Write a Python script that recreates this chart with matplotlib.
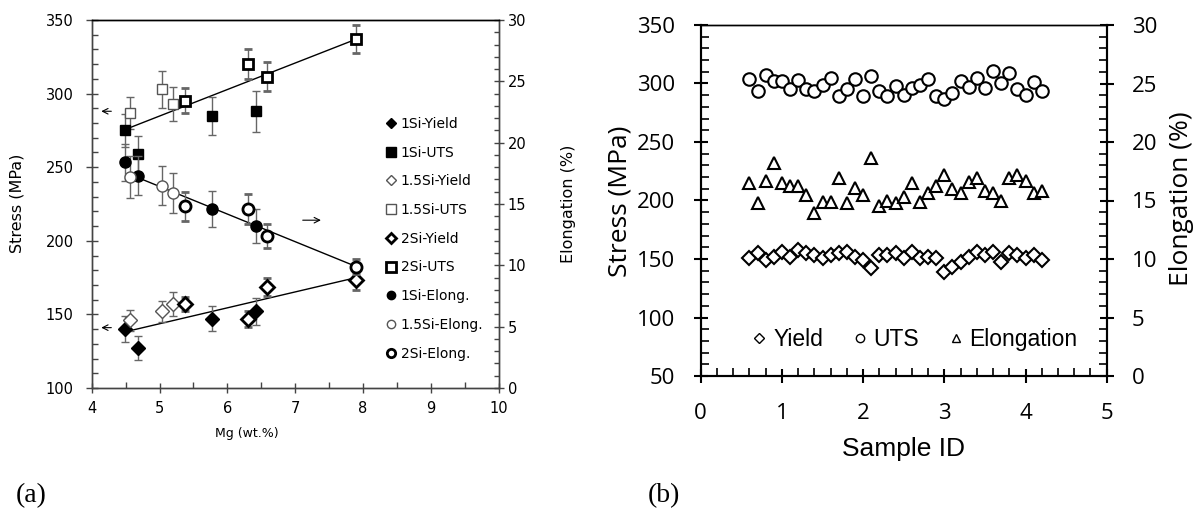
import numpy as np
import matplotlib
matplotlib.use('Agg')
from matplotlib import pyplot as plt
from matplotlib.lines import Line2D
from matplotlib.ticker import MultipleLocator

# ---- (a) tensile properties vs Mg content ----
mg_1si = [4.49, 4.68, 5.77, 6.42]
mg_15si = [4.57, 5.04, 5.20]
mg_2si = [5.37, 6.30, 6.58, 7.90]

yield_1si = [140, 127, 147, 152]
yield_1si_err = [9, 8, 8.5, 9]
yield_15si = [146, 152, 157]
yield_15si_err = [7, 7, 8]
yield_2si = [157, 147, 168.5, 173.5]
yield_2si_err = [5, 5.5, 6, 7]

uts_1si = [275, 259, 285, 288]
uts_1si_err = [11, 12, 13, 14]
uts_15si = [287, 303, 293]
uts_15si_err = [11, 12.5, 11.5]
uts_2si = [295, 320, 311.5, 337]
uts_2si_err = [8.5, 10, 10, 9.5]

el_1si = [18.4, 17.3, 14.6, 13.2]
el_1si_err = [1.5, 1.6, 1.5, 1.4]
el_15si = [17.2, 16.5, 15.9]
el_15si_err = [1.7, 1.6, 1.6]
el_2si = [14.8, 14.6, 12.4, 9.9]
el_2si_err = [1.15, 1.2, 1.0, 0.6]

trend_mg = [4.57, 7.90]
trend_uts = [277, 337]
trend_yield = [139, 175]
trend_el = [17.4, 9.9]

# ---- (b) scatter of repeated samples ----
sample_id = [0.6, 0.7, 0.8, 0.9, 1.0, 1.1, 1.2, 1.3, 1.4, 1.5,
             1.6, 1.7, 1.8, 1.9, 2.0, 2.1, 2.2, 2.3, 2.4, 2.5,
             2.6, 2.7, 2.8, 2.9, 3.0, 3.1, 3.2, 3.3, 3.4, 3.5,
             3.6, 3.7, 3.8, 3.9, 4.0, 4.1, 4.2]
yield_b = [150.6, 155, 149, 152, 156, 152, 157.7, 155, 153.4, 150.6,
           153.4, 155, 156.2, 152, 149, 142, 153.4, 153.4, 155, 150.6,
           156.2, 150.6, 152, 150.6, 139, 143.4, 147.7, 152, 156.2, 153.4,
           156.2, 147.7, 155, 153.4, 150.6, 153.4, 149]
uts_b = [304, 294, 307, 302, 302, 295, 303, 295, 294, 299,
         305, 289, 295, 304, 289, 306, 294, 289, 298, 290,
         296, 299, 304, 289, 287, 292, 302, 297, 305, 296,
         311, 300, 309, 295, 290, 301, 294]
elong_b = [16.5, 14.8, 16.7, 18.2, 16.5, 16.2, 16.2, 15.5, 13.9, 14.9,
           14.9, 16.9, 14.8, 16.1, 15.5, 18.6, 14.5, 15.0, 14.8, 15.3,
           16.5, 14.9, 15.6, 16.2, 17.2, 16.0, 15.6, 16.6, 16.9, 15.8,
           15.6, 15.0, 16.9, 17.2, 16.7, 15.6, 15.8]

W, H = 1197, 517
fig = plt.figure(figsize=(W / 100, H / 100), dpi=100)

def fx(px):
    return px / W

def fy(py):
    return 1 - py / H

gray = '#555555'
ecol = '#666666'

# ================= panel (a) =================
ax = fig.add_axes([fx(91.7), fy(388), 407 / W, 368 / H])
ax2 = ax.twinx()

styles = {
    '1Si': dict(mfc='black', mec='black', mew=1),
    '1.5Si': dict(mfc='white', mec=gray, mew=1),
    '2Si': dict(mfc='white', mec='black', mew=2),
}
eb = dict(ls='none', ecolor=ecol, elinewidth=1, capsize=3, capthick=1)

ax.plot(trend_mg, trend_uts, color='black', lw=1)
ax.plot(trend_mg, trend_yield, color='black', lw=1)
ax2.plot(trend_mg, trend_el, color='black', lw=1)

for mg, y, e, key in [(mg_1si, yield_1si, yield_1si_err, '1Si'),
                      (mg_15si, yield_15si, yield_15si_err, '1.5Si'),
                      (mg_2si, yield_2si, yield_2si_err, '2Si')]:
    ax.errorbar(mg, y, yerr=e, marker='D', ms=7, **styles[key], **eb)
for mg, y, e, key in [(mg_1si, uts_1si, uts_1si_err, '1Si'),
                      (mg_15si, uts_15si, uts_15si_err, '1.5Si'),
                      (mg_2si, uts_2si, uts_2si_err, '2Si')]:
    ax.errorbar(mg, y, yerr=e, marker='s', ms=7.5, **styles[key], **eb)
for mg, y, e, key in [(mg_1si, el_1si, el_1si_err, '1Si'),
                      (mg_15si, el_15si, el_15si_err, '1.5Si'),
                      (mg_2si, el_2si, el_2si_err, '2Si')]:
    ax2.errorbar(mg, y, yerr=e, marker='o', ms=8, **styles[key], **eb)

ax.set_xlim(4, 10)
ax.set_ylim(100, 350)
ax2.set_ylim(0, 30)
ax.xaxis.set_major_locator(MultipleLocator(1))
ax.xaxis.set_minor_locator(MultipleLocator(0.5))
ax.yaxis.set_major_locator(MultipleLocator(50))
ax.yaxis.set_minor_locator(MultipleLocator(10))
ax2.yaxis.set_major_locator(MultipleLocator(5))
ax2.yaxis.set_minor_locator(MultipleLocator(1))

for a in (ax, ax2):
    for s in a.spines.values():
        s.set_color('#444444')
        s.set_linewidth(1)
    a.spines['top'].set_color('black')
ax.tick_params(axis='y', which='major', direction='inout', length=8, width=1,
               color='#444444', labelsize=10.5, pad=9)
ax.tick_params(axis='x', which='major', direction='inout', length=7, width=1,
               color='#444444', labelsize=10.5, pad=6)
ax.tick_params(which='minor', direction='in', length=4, width=1, color='#444444')
ax2.tick_params(axis='y', which='major', direction='inout', length=7, width=1,
                color='#444444', labelsize=10.5, pad=3)
ax2.tick_params(axis='y', which='minor', direction='in', length=3.5, width=1,
                color='#444444')

arr = dict(arrowstyle='->', color='black', lw=0.8)
ax.annotate('', xy=(4.1, 288), xytext=(4.33, 288), arrowprops=arr)
ax.annotate('', xy=(4.1, 141), xytext=(4.33, 141), arrowprops=arr)
ax.annotate('', xy=(7.42, 214), xytext=(7.07, 214), arrowprops=arr)

leg_handles = [
    Line2D([], [], ls='none', marker='D', ms=5, **styles['1Si']),
    Line2D([], [], ls='none', marker='s', ms=7, **styles['1Si']),
    Line2D([], [], ls='none', marker='D', ms=5, **styles['1.5Si']),
    Line2D([], [], ls='none', marker='s', ms=7, **styles['1.5Si']),
    Line2D([], [], ls='none', marker='D', ms=5, **styles['2Si']),
    Line2D([], [], ls='none', marker='s', ms=7, **styles['2Si']),
    Line2D([], [], ls='none', marker='o', ms=6, **styles['1Si']),
    Line2D([], [], ls='none', marker='o', ms=6, **styles['1.5Si']),
    Line2D([], [], ls='none', marker='o', ms=6, **styles['2Si']),
]
leg_labels = ['1Si-Yield', '1Si-UTS', '1.5Si-Yield', '1.5Si-UTS', '2Si-Yield',
              '2Si-UTS', '1Si-Elong.', '1.5Si-Elong.', '2Si-Elong.']
ax2.legend(leg_handles, leg_labels, loc='upper left', bbox_to_anchor=(0.722, 0.737),
           frameon=False, fontsize=10, handlelength=0.8, handletextpad=0.3,
           labelspacing=1.06, borderpad=0, borderaxespad=0)

fig.text(fx(16.7), fy(203), 'Stress (MPa)', rotation=90, ha='center', va='center', fontsize=11.5)
fig.text(fx(568), fy(204), 'Elongation (%)', rotation=90, ha='center', va='center', fontsize=11.5)
fig.text(fx(247), fy(433), 'Mg (wt.%)', ha='center', va='center', fontsize=9)

# ================= panel (b) =================
bx = fig.add_axes([fx(700.7), fy(376), 406 / W, 351 / H])
bx2 = bx.twinx()

bx.plot(sample_id, yield_b, ls='none', marker='D', ms=7, mfc='white', mec='black', mew=1.5)
bx.plot(sample_id, uts_b, ls='none', marker='o', ms=9, mfc='white', mec='black', mew=1.5)
bx2.plot(sample_id, elong_b, ls='none', marker='^', ms=9, mfc='white', mec='black', mew=1.5)

bx.set_xlim(0, 5)
bx.set_ylim(50, 350)
bx2.set_ylim(0, 30)
bx.xaxis.set_major_locator(MultipleLocator(1))
bx.xaxis.set_minor_locator(MultipleLocator(0.2))
bx.yaxis.set_major_locator(MultipleLocator(50))
bx.yaxis.set_minor_locator(MultipleLocator(10))
bx2.yaxis.set_major_locator(MultipleLocator(5))
bx2.yaxis.set_minor_locator(MultipleLocator(1))

for a in (bx, bx2):
    for s in a.spines.values():
        s.set_color('black')
        s.set_linewidth(1.5)
    a.spines['top'].set_linewidth(1)

bx.tick_params(axis='x', which='major', direction='inout', length=9.4, width=1.5, pad=14.5)
bx.tick_params(axis='y', which='major', direction='inout', length=9.4, width=1.5, pad=13.5)
bx.tick_params(which='minor', direction='in', length=5.5, width=1.2)
bx2.tick_params(axis='y', which='major', direction='inout', length=9.4, width=1.5, pad=13.5)
bx2.tick_params(axis='y', which='minor', direction='in', length=5.5, width=1.2)
for lab in bx.get_xticklabels() + bx.get_yticklabels() + bx2.get_yticklabels():
    lab.set_fontfamily('Open Sans')
    lab.set_fontsize(16)

hb = [Line2D([], [], ls='none', marker='D', ms=5, mfc='white', mec='black', mew=1),
      Line2D([], [], ls='none', marker='o', ms=6, mfc='white', mec='black', mew=1),
      Line2D([], [], ls='none', marker='^', ms=6, mfc='white', mec='black', mew=1)]
bx.legend(hb, ['Yield', 'UTS', 'Elongation'], loc='center', bbox_to_anchor=(0.528, 0.103),
          ncol=3, frameon=False, prop={'family': 'Liberation Sans', 'size': 16.5},
          handlelength=0.6, handletextpad=0.3, columnspacing=1.3, borderpad=0)

fig.text(fx(620), fy(201), 'Stress (MPa)', rotation=90, ha='center', va='center',
         fontfamily='Open Sans', fontsize=19)
fig.text(fx(1182), fy(199), 'Elongation (%)', rotation=90, ha='center', va='center',
         fontfamily='Open Sans', fontsize=19)
fig.text(fx(904), fy(449), 'Sample ID', ha='center', va='center',
         fontfamily='Liberation Sans', fontsize=19)

fig.text(fx(31), fy(496), '(a)', ha='center', va='center', fontfamily='Liberation Serif', fontsize=20)
fig.text(fx(664), fy(496), '(b)', ha='center', va='center', fontfamily='Liberation Serif', fontsize=20)

fig.savefig('out.png', dpi=100)
